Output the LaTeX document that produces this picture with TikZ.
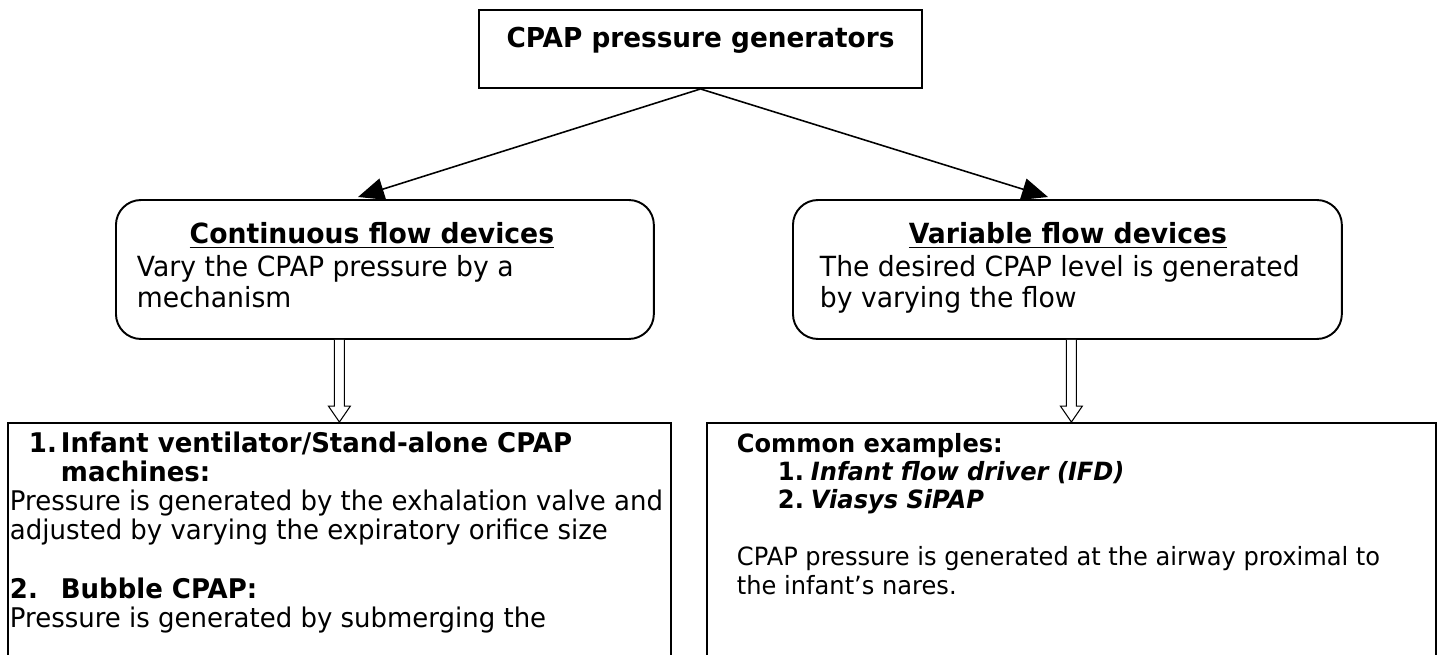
\documentclass[tikz,border=0pt]{standalone}
\usepackage{fontspec}
\setmainfont{DejaVu Sans}[FakeStretch=0.96]
\usetikzlibrary{arrows.meta,calc}
\tikzset{
  genbox/.style={draw, line width=1.1pt, anchor=base, minimum width=8.86cm, inner ysep=0pt, font=\fontsize{15.6}{18}\selectfont\bfseries},
  devbox/.style={draw, line width=1.1pt, rounded corners=0.5cm, anchor=base west, inner sep=0pt, font=\fontsize{15.8}{17.64}\selectfont},
  listbox/.style={draw, line width=1.1pt, anchor=base west, inner sep=0pt},
  pointer/.style={-{Triangle[length=0.52cm,width=0.44cm]}, line width=0.9pt},
  hollow/.style={draw, fill=white, line width=0.6pt},
}
\begin{document}
\begin{tikzpicture}[x=0.02cm, y=-0.02cm]
  \useasboundingbox (0,0) rectangle (1440,655);

  \node[genbox, text height=0.76cm, text depth=0.8cm] (gen) at (700.5,48) {CPAP pressure generators};

  \node[devbox, text height=0.88cm, text depth=1.9cm] (cont) at (115,244) {\hspace*{0.42cm}\begin{minipage}[t]{9.4cm}
    {\centering\bfseries\underline{Continuous flow devices}\par}
    \vspace{0.04cm}
    Vary the CPAP pressure by a\newline mechanism
  \end{minipage}\hspace*{0.94cm}};
  \node[devbox, text height=0.88cm, text depth=1.9cm] (var) at (792,244) {\hspace*{0.54cm}\begin{minipage}[t]{9.92cm}
    {\centering\bfseries\underline{Variable flow devices}\par}
    \vspace{0.04cm}
    The desired CPAP level is generated\newline by varying the flow
  \end{minipage}\hspace*{0.52cm}};

  \node[listbox, text height=0.58cm, text depth=5.36cm, font=\fontsize{15.4}{16.68}\selectfont] (lbox) at (7,452) {\hspace*{0.04cm}\begin{minipage}[t]{13.18cm}
    {\bfseries\hangindent=1.02cm\hspace*{0.38cm}\makebox[0.64cm][l]{1.}Infant ventilator/Stand-alone CPAP\newline machines:\par}
    Pressure is generated by the exhalation valve and\newline adjusted by varying the expiratory orifice size\par
    \mbox{}\par
    {\bfseries\makebox[1.02cm][l]{2.}Bubble CPAP:\par}
    Pressure is generated by submerging the
  \end{minipage}\hspace*{0.04cm}};
  \node[listbox, text height=0.58cm, text depth=5.36cm, font=\fontsize{14.3}{16.2}\selectfont] (rbox) at (706,452) {\hspace*{0.6cm}\begin{minipage}[t]{13.8cm}
    {\bfseries Common examples:\par}
    \hspace*{0.82cm}\makebox[0.66cm][l]{\bfseries 1.}{\bfseries\itshape Infant flow driver (IFD)}\par
    \hspace*{0.82cm}\makebox[0.66cm][l]{\bfseries 2.}{\bfseries\itshape Viasys SiPAP}\par
    \mbox{}\par
    CPAP pressure is generated at the airway proximal to\newline the infant’s nares.
  \end{minipage}\hspace*{0.18cm}};

  % arrows from the top box
  \coordinate (ltip) at (358,197);
  \coordinate (rtip) at (1048,197);
  \draw[pointer] (gen.south) -- (ltip);
  \draw[pointer] (gen.south) -- (rtip);

  % hollow arrows down to the examples
  \draw[hollow] ($(cont.south -| lbox.north)+(-5,0)$) -- ($(lbox.north)+(-5,-16)$) -- ($(lbox.north)+(-11,-16)$) -- (lbox.north)
    -- ($(lbox.north)+(11,-16)$) -- ($(lbox.north)+(5,-16)$) -- ($(cont.south -| lbox.north)+(5,0)$);
  \draw[hollow] ($(var.south -| rbox.north)+(-5,0)$) -- ($(rbox.north)+(-5,-16)$) -- ($(rbox.north)+(-11,-16)$) -- (rbox.north)
    -- ($(rbox.north)+(11,-16)$) -- ($(rbox.north)+(5,-16)$) -- ($(var.south -| rbox.north)+(5,0)$);
\end{tikzpicture}
\end{document}
